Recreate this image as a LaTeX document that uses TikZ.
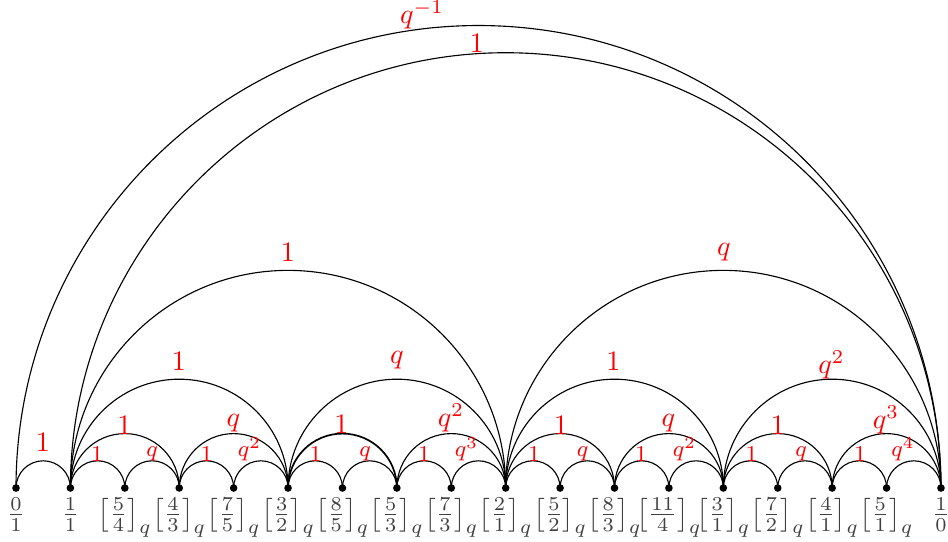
\documentclass[tikz,border=0pt]{standalone}
\usetikzlibrary{calc}
\newcommand\farc[3][]{\draw[arcline,#1] let \p1=(#2.center), \p2=(#3.center), \n1={(\x2-\x1)/2} in (#2.center) arc[start angle=180,end angle=0,radius=\n1];}
\begin{document}
\begin{tikzpicture}[x=0.355pt,y=0.355pt,
  dot/.style={circle,fill=black,inner sep=0pt,minimum size=2.7pt},
  vlab/.style={anchor=north,text=black!75,inner sep=3.33pt},
  biglab/.style={anchor=south,inner sep=0pt,text=red},
  smalllab/.style={anchor=south,inner sep=0pt,text=red,font=\footnotesize},
  arcline/.style={line width=0.4pt,black}]
\useasboundingbox (0,0) rectangle (948,541);
% points
\foreach \i in {0,...,17} \coordinate (c\i) at ({16+54.41*\i},53);
% arcs
\foreach \a/\b in {0/1,0/17,1/17,1/9,9/17,1/5,5/9,9/13,13/17,1/3,3/5,7/9,9/11,11/13,13/15,15/17,
  1/2,2/3,3/4,4/5,5/6,6/7,7/8,8/9,9/10,10/11,11/12,12/13,13/14,14/15,15/16,16/17}
  {\farc{c\a}{c\b}}
\farc[line width=0.6pt]{c5}{c7}
\foreach \i in {0,...,17} \node[dot] (p\i) at (c\i) {};
% vertex labels
\node[vlab] (v0) at (c0) {$\frac{0}{1}$};
\node[vlab] (v1) at (c1) {$\frac{1}{1}$};
\foreach \i/\n/\d in {2/5/4,3/4/3,4/7/5,5/3/2,6/8/5,7/5/3,8/7/3,9/2/1,10/5/2,11/8/3,12/11/4,13/3/1,14/7/2,15/4/1,16/5/1}
  \node[vlab] (v\i) at (c\i) {$\left[\frac{\n}{\d}\right]_q$};
\node[vlab] (v17) at (c17) {$\frac{1}{0}$};
% large arc labels
\node[biglab] (a0) at (422,511) {$q^{-1}$};
\node[biglab] (a1) at (477,488) {$1$};
\node[biglab] (a2) at (288,279) {$1$};
\node[biglab] (a3) at (724,279) {$q$};
\node[biglab] (a4) at (179,170) {$1$};
\node[biglab] (a5) at (397,171) {$q$};
\node[biglab] (a6) at (613.5,169.5) {$1$};
\node[biglab] (a7) at (831.5,161) {$q^2$};
\node[biglab] (a8) at (43,89) {$1$};
\node[biglab] (a9) at (124.5,106) {$1$};
\node[biglab] (a10) at (233.5,108) {$q$};
\node[biglab] (a11) at (341.5,106.5) {$1$};
\node[biglab] (a12) at (451,108) {$q^2$};
\node[biglab] (a13) at (561,106) {$1$};
\node[biglab] (a14) at (668.5,108) {$q$};
\node[biglab] (a15) at (778,106) {$1$};
\node[biglab] (a16) at (886,106) {$q^3$};
% small arc labels
\foreach \x/\t [count=\k] in {97/1,152/q,206.5/1,249.5/q^2,315.5/1,365/q,424/1,466.5/q^3,
  534/1,582.5/q,641/1,684.5/q^2,751.5/1,801/q,860/1,903/q^4}
  \node[smalllab] (s\k) at (\x,79.3) {$\t$};
\end{tikzpicture}
\end{document}
